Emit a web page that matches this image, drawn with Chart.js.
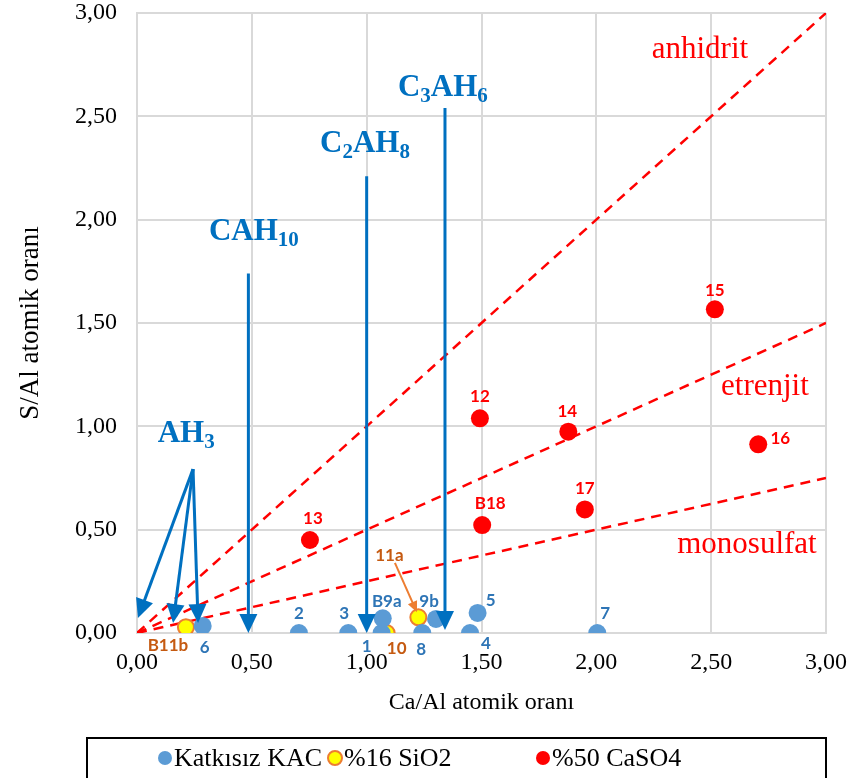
<!DOCTYPE html>
<html>
<head>
<meta charset="utf-8">
<script src="https://cdn.jsdelivr.net/npm/chart.js@4"></script>
<style>
  body { margin: 0; background: #fff; }
  #wrap { width: 851px; height: 778px; }
</style>
</head>
<body>
<div id="wrap"><canvas id="grafik" width="851" height="778"></canvas></div>
<script>
// Katkısız KAC
const kacX = [1.065, 0.705, 0.92, 1.45, 1.483, 0.286, 2.004, 1.242, 1.07, 1.302]
const kacY = [0.00, 0.00, 0.00, 0.00, 0.097, 0.034, 0.00, 0.00, 0.071, 0.068]
const kacEtiket = ['1', '2', '3', '4', '5', '6', '7', '8', 'B9a', '9b']

// %16 SiO2
const silikaX = [0.213, 1.087, 1.225]
const silikaY = [0.028, 0.00, 0.076]
const silikaEtiket = ['B11b', '10', '11a']

// %50 CaSO4
const alciX = [1.493, 0.753, 1.878, 2.516, 2.705, 1.95, 1.503]
const alciY = [1.039, 0.45, 0.974, 1.566, 0.913, 0.598, 0.522]
const alciEtiket = ['12', '13', '14', '15', '16', '17', 'B18']

// faz çizgileri (0,0 noktasından)
const fazAdlari = ['anhidrit', 'etrenjit', 'monosulfat']
const fazSonY = [3.0, 1.5, 0.75]

// hidrat okları: [x0, y0, x1, y1]
const hidratOklari = [
    [0.485, 1.74, 0.485, 0.0],
    [1.0, 2.21, 1.0, 0.0],
    [1.341, 2.54, 1.341, 0.015],
    [0.244, 0.793, 0.004, 0.073],
    [0.244, 0.793, 0.157, 0.048],
    [0.244, 0.793, 0.266, 0.048]
]

const eksenTikleri = [0, 0.5, 1, 1.5, 2, 2.5, 3]

const toPoints = (xs, ys) => xs.map((x, i) => ({ x: x, y: ys[i] }))
const virgul = v => v.toFixed(2).replace('.', ',')

// etiket kaydırmaları (piksel)
const kacKayma = [[-15, 14], [0, -19], [-4, -19], [16, 11], [13, -12], [2, 22], [8, -19], [-1, 17], [4, -17], [-7, -17]]
const silikaKayma = [[-18, 18], [10, 16], [-29, -62]]
const alciKayma = [[0, -22], [3, -21], [-1, -20], [0, -19], [22, -6], [0, -21], [8, -22]]

const SERIF = '"Liberation Serif", "Times New Roman", serif'
const MAVI = '#0070c0'
const KIRMIZI = '#ff0000'

const noktaEtiketleri = {
    id: 'noktaEtiketleri',
    afterDatasetsDraw(chart) {
        const ctx = chart.ctx
        ctx.save()
        ctx.font = 'bold 17px Lato, "Open Sans", sans-serif'
        ctx.textAlign = 'center'
        ctx.textBaseline = 'middle'
        chart.data.datasets.forEach((ds, i) => {
            if (!ds.etiketler) return
            const meta = chart.getDatasetMeta(i)
            meta.data.forEach((el, j) => {
                const k = ds.kayma[j]
                ctx.fillStyle = ds.etiketRenk
                ctx.fillText(ds.etiketler[j], el.x + k[0], el.y + k[1])
            })
        })
        ctx.restore()
    }
}

function okCiz(ctx, x0, y0, x1, y1, renk, kalinlik, uc, en) {
    const a = Math.atan2(y1 - y0, x1 - x0)
    ctx.strokeStyle = renk
    ctx.fillStyle = renk
    ctx.lineWidth = kalinlik
    ctx.beginPath()
    ctx.moveTo(x0, y0)
    ctx.lineTo(x1 - Math.cos(a) * uc * 0.8, y1 - Math.sin(a) * uc * 0.8)
    ctx.stroke()
    ctx.beginPath()
    ctx.moveTo(x1, y1)
    ctx.lineTo(x1 - uc * Math.cos(a) + en * Math.sin(a), y1 - uc * Math.sin(a) - en * Math.cos(a))
    ctx.lineTo(x1 - uc * Math.cos(a) - en * Math.sin(a), y1 - uc * Math.sin(a) + en * Math.cos(a))
    ctx.closePath()
    ctx.fill()
}

// alt simgeli formül yazısı: parçalar [metin, altSimge]
function formulYaz(ctx, parcalar, x, y) {
    let cx = x
    parcalar.forEach(p => {
        ctx.font = p[1] ? 'bold 21px ' + SERIF : 'bold 31px ' + SERIF
        ctx.fillText(p[0], cx, p[1] ? y + 6 : y)
        cx += ctx.measureText(p[0]).width
    })
}

const notlar = {
    id: 'notlar',
    afterDatasetsDraw(chart) {
        const ctx = chart.ctx
        const sx = chart.scales.x
        const sy = chart.scales.y
        ctx.save()
        hidratOklari.forEach(o => {
            okCiz(ctx, sx.getPixelForValue(o[0]), sy.getPixelForValue(o[1]),
                sx.getPixelForValue(o[2]), sy.getPixelForValue(o[3]), MAVI, 3, 19, 9)
        })
        // 11a oku
        okCiz(ctx, sx.getPixelForValue(1.123), sy.getPixelForValue(0.339),
            sx.getPixelForValue(1.219), sy.getPixelForValue(0.10), '#ed7d31', 2, 11, 5)

        ctx.textAlign = 'left'
        ctx.textBaseline = 'alphabetic'
        ctx.fillStyle = MAVI
        formulYaz(ctx, [['AH', 0], ['3', 1]], sx.getPixelForValue(0.09), sy.getPixelForValue(0.924))
        formulYaz(ctx, [['CAH', 0], ['10', 1]], sx.getPixelForValue(0.313), sy.getPixelForValue(1.90))
        formulYaz(ctx, [['C', 0], ['2', 1], ['AH', 0], ['8', 1]], sx.getPixelForValue(0.797), sy.getPixelForValue(2.327))
        formulYaz(ctx, [['C', 0], ['3', 1], ['AH', 0], ['6', 1]], sx.getPixelForValue(1.136), sy.getPixelForValue(2.60))

        ctx.fillStyle = KIRMIZI
        ctx.font = '31px ' + SERIF
        ctx.textAlign = 'center'
        const fazYer = [[2.451, 2.78], [2.734, 1.151], [2.656, 0.387]]
        fazAdlari.forEach((ad, i) => {
            ctx.fillText(ad, sx.getPixelForValue(fazYer[i][0]), sy.getPixelForValue(fazYer[i][1]))
        })
        ctx.restore()
    }
}

// çerçeveli alt gösterge
const gosterge = {
    id: 'gosterge',
    afterDraw(chart) {
        const ctx = chart.ctx
        ctx.save()
        ctx.strokeStyle = '#000'
        ctx.lineWidth = 2
        ctx.strokeRect(87, 738, 739, 44)
        const xler = [165, 335, 543]
        ctx.font = '26px ' + SERIF
        ctx.textBaseline = 'middle'
        ctx.textAlign = 'left'
        for (let i = 0; i < 3; i++) {
            const ds = chart.data.datasets[i]
            ctx.beginPath()
            ctx.arc(xler[i], 758, 7, 0, Math.PI * 2)
            ctx.fillStyle = ds.backgroundColor
            ctx.fill()
            if (ds.borderWidth) {
                ctx.lineWidth = 2
                ctx.strokeStyle = ds.borderColor
                ctx.stroke()
            }
            ctx.fillStyle = '#000'
            ctx.fillText(ds.label, xler[i] + 9, 759)
        }
        ctx.restore()
    }
}

const cizgiler = fazAdlari.map((ad, i) => ({
    type: 'line',
    label: ad,
    data: [{ x: 0, y: 0 }, { x: 3, y: fazSonY[i] }],
    borderColor: KIRMIZI,
    borderWidth: 2.5,
    borderDash: [10, 7],
    pointRadius: 0,
    order: 10
}))

new Chart(document.getElementById('grafik'), {
    type: 'scatter',
    data: {
        datasets: [
            {
                label: 'Katkısız KAC',
                data: toPoints(kacX, kacY),
                backgroundColor: '#5b9bd5',
                borderColor: '#5b9bd5',
                borderWidth: 0,
                pointRadius: 9,
                etiketler: kacEtiket,
                kayma: kacKayma,
                etiketRenk: '#2e75b6'
            },
            {
                label: '%16 SiO2',
                data: toPoints(silikaX, silikaY),
                backgroundColor: '#ffff00',
                borderColor: '#ed7d31',
                borderWidth: 2,
                pointRadius: 8,
                etiketler: silikaEtiket,
                kayma: silikaKayma,
                etiketRenk: '#c55a11'
            },
            {
                label: '%50 CaSO4',
                data: toPoints(alciX, alciY),
                backgroundColor: KIRMIZI,
                borderColor: KIRMIZI,
                borderWidth: 0,
                pointRadius: 9,
                etiketler: alciEtiket,
                kayma: alciKayma,
                etiketRenk: KIRMIZI
            },
            ...cizgiler
        ]
    },
    options: {
        responsive: false,
        animation: false,
        layout: { padding: { left: 0, right: 25, top: 13, bottom: 45 } },
        plugins: {
            legend: { display: false },
            tooltip: { enabled: false }
        },
        scales: {
            x: {
                type: 'linear',
                min: 0,
                max: 3,
                afterBuildTicks: s => { s.ticks = eksenTikleri.map(v => ({ value: v })) },
                afterFit: s => { s.height = 100; s.paddingLeft = 0; s.paddingRight = 0 },
                grid: { color: '#d9d9d9', lineWidth: 2, drawTicks: false },
                border: { color: '#d9d9d9', width: 2 },
                ticks: {
                    padding: 15,
                    color: '#000',
                    font: { family: SERIF, size: 24 },
                    callback: virgul
                },
                title: {
                    display: true,
                    text: 'Ca/Al atomik oranı',
                    color: '#000',
                    font: { family: SERIF, size: 24 },
                    padding: { top: 0, bottom: 16 }
                }
            },
            y: {
                type: 'linear',
                min: 0,
                max: 3,
                afterBuildTicks: s => { s.ticks = eksenTikleri.map(v => ({ value: v })) },
                afterFit: s => { s.width = 137; s.paddingTop = 0; s.paddingBottom = 0 },
                grid: { color: '#d9d9d9', lineWidth: 2, drawTicks: false },
                border: { color: '#d9d9d9', width: 2 },
                ticks: {
                    padding: 20,
                    color: '#000',
                    font: { family: SERIF, size: 24 },
                    callback: virgul
                },
                title: {
                    display: true,
                    text: 'S/Al atomik oranı',
                    color: '#000',
                    font: { family: SERIF, size: 27 },
                    padding: { top: 15, bottom: 0 }
                }
            }
        }
    },
    plugins: [noktaEtiketleri, notlar, gosterge]
})
</script>
</body>
</html>
